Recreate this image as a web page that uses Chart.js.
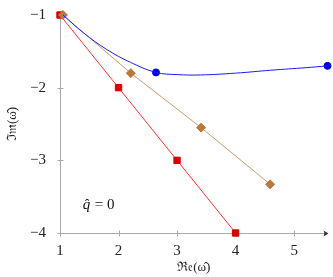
<!DOCTYPE html>
<html>
<head>
    <meta charset="UTF-8">
    <style>
        html, body { margin: 0; padding: 0; background: #fff; }
        .chart-container { width: 333px; height: 277px; }
    </style>
    <script src="https://cdn.jsdelivr.net/npm/chart.js@4.4.0/dist/chart.umd.min.js"></script>
    <title>Quasinormal modes</title>
</head>
<body>
    <div class="chart-container">
        <canvas id="qnmChart"></canvas>
    </div>

    <script>
        // values
        const redRe = [1, 2, 3, 4];
        const redIm = [-1, -2, -3, -4];

        const brownRe = [1.05, 2.21, 3.41, 4.59];
        const brownIm = [-1.0, -1.80, -2.55, -3.33];

        const blueRe = [2.64, 5.57];
        const blueIm = [-1.79, -1.70];

        const blueCurveRe = [1.05, 1.4, 1.8, 2.2, 2.64, 3.0, 3.4, 4.0, 4.6, 5.2, 5.57];
        const blueCurveIm = [-1.0, -1.245, -1.475, -1.65, -1.79, -1.82, -1.825, -1.80, -1.76, -1.725, -1.70];

        const xTicks = [1, 2, 3, 4, 5];
        const yTicks = [-4, -3, -2, -1];

        const yTitle = '\u2111\uD835\uDD2A(\u03C9\u0302)';
        const xTitle = '\u211C\uD835\uDD22(\u03C9\u0302)';
        const labelAt = { x: 1.39, y: -3.61 };

        const serif = '"Liberation Serif", "DejaVu Serif", serif';
        const axisGray = '#a8a8a8';

        function pts(xs, ys) {
            return xs.map((x, i) => ({ x: x, y: ys[i] }));
        }

        function minus(v) {
            return String(v).replace('-', '\u2212');
        }

        // axis lines with crossing ticks, arrow on x, y title, the q label
        const axesPlugin = {
            id: 'axesPlugin',
            beforeDatasetsDraw(chart) {
                const { ctx, scales: { x, y }, chartArea } = chart;
                ctx.save();
                ctx.strokeStyle = axisGray;
                ctx.lineWidth = 1;
                const x0 = Math.round(x.getPixelForValue(1)) + 0.5;
                const y0 = Math.round(y.getPixelForValue(-4)) + 0.5;
                ctx.beginPath();
                ctx.moveTo(x0, chartArea.top);
                ctx.lineTo(x0, y0);
                ctx.lineTo(chartArea.right - 2, y0);
                ctx.stroke();
                xTicks.forEach(v => {
                    const px = Math.round(x.getPixelForValue(v)) + 0.5;
                    ctx.beginPath();
                    ctx.moveTo(px, y0 - 3);
                    ctx.lineTo(px, y0 + 3);
                    ctx.stroke();
                });
                yTicks.forEach(v => {
                    const py = Math.round(y.getPixelForValue(v)) + 0.5;
                    ctx.beginPath();
                    ctx.moveTo(x0 - 3, py);
                    ctx.lineTo(x0 + 3, py);
                    ctx.stroke();
                });
                ctx.fillStyle = '#333';
                ctx.beginPath();
                ctx.moveTo(chartArea.right + 1, y0);
                ctx.lineTo(chartArea.right - 4, y0 - 3);
                ctx.lineTo(chartArea.right - 3, y0);
                ctx.lineTo(chartArea.right - 4, y0 + 3);
                ctx.closePath();
                ctx.fill();

                ctx.fillStyle = '#222';
                ctx.font = '13px ' + serif;
                ctx.textAlign = 'center';
                ctx.textBaseline = 'middle';
                ctx.save();
                ctx.translate(13, (chartArea.top + chartArea.bottom) / 2);
                ctx.rotate(-Math.PI / 2);
                ctx.fillText(yTitle, 0, 0);
                ctx.restore();

                ctx.fillStyle = '#111';
                ctx.font = 'italic 15px ' + serif;
                ctx.textAlign = 'left';
                const lx = x.getPixelForValue(labelAt.x);
                const ly = y.getPixelForValue(labelAt.y);
                ctx.fillText('q\u0302', lx, ly);
                ctx.font = '15px ' + serif;
                ctx.fillText('= 0', lx + 12, ly);
                ctx.restore();
            }
        };

        const ctx = document.getElementById('qnmChart').getContext('2d');
        new Chart(ctx, {
            type: 'scatter',
            data: {
                datasets: [
                    {
                        label: 'blue curve',
                        data: pts(blueCurveRe, blueCurveIm),
                        showLine: true,
                        borderColor: '#1a1aff',
                        borderWidth: 1,
                        pointRadius: 0,
                        tension: 0.4,
                        clip: false
                    },
                    {
                        label: 'blue',
                        data: pts(blueRe, blueIm),
                        showLine: false,
                        backgroundColor: '#0000e0',
                        borderColor: '#0000e0',
                        pointRadius: 3.5,
                        clip: false
                    },
                    {
                        label: 'brown',
                        data: pts(brownRe, brownIm),
                        showLine: true,
                        borderColor: '#cc9a66',
                        borderWidth: 1,
                        backgroundColor: '#b9783c',
                        pointBorderColor: '#b9783c',
                        pointStyle: 'rectRot',
                        pointRadius: 4.5,
                        clip: false
                    },
                    {
                        label: 'red',
                        data: pts(redRe, redIm),
                        showLine: true,
                        borderColor: '#ff3030',
                        borderWidth: 1,
                        backgroundColor: '#d80000',
                        pointBorderColor: '#d80000',
                        pointStyle: 'rect',
                        pointRadius: 4.5,
                        clip: false
                    }
                ]
            },
            options: {
                responsive: true,
                maintainAspectRatio: false,
                animation: false,
                layout: { padding: { top: 9, right: 3, left: 0, bottom: 0 } },
                plugins: {
                    legend: { display: false },
                    tooltip: { enabled: false }
                },
                scales: {
                    x: {
                        type: 'linear',
                        min: 1,
                        max: 5.57,
                        border: { display: false },
                        grid: { display: false },
                        afterFit: s => { s.height = 44; },
                        afterBuildTicks: s => { s.ticks = xTicks.map(v => ({ value: v })); },
                        ticks: {
                            color: '#222',
                            padding: 1,
                            font: { family: serif, size: 15 },
                            callback: v => minus(v)
                        },
                        title: {
                            display: true,
                            text: xTitle,
                            color: '#222',
                            padding: { top: 0, bottom: 2 },
                            font: { family: serif, size: 13 }
                        }
                    },
                    y: {
                        type: 'linear',
                        min: -4,
                        max: -1,
                        border: { display: false },
                        grid: { display: false },
                        afterFit: s => { s.width = 60; },
                        afterBuildTicks: s => { s.ticks = yTicks.map(v => ({ value: v })); },
                        ticks: {
                            color: '#222',
                            padding: 6,
                            font: { family: serif, size: 15 },
                            callback: v => minus(v)
                        }
                    }
                }
            },
            plugins: [axesPlugin]
        });
    </script>
</body>
</html>
